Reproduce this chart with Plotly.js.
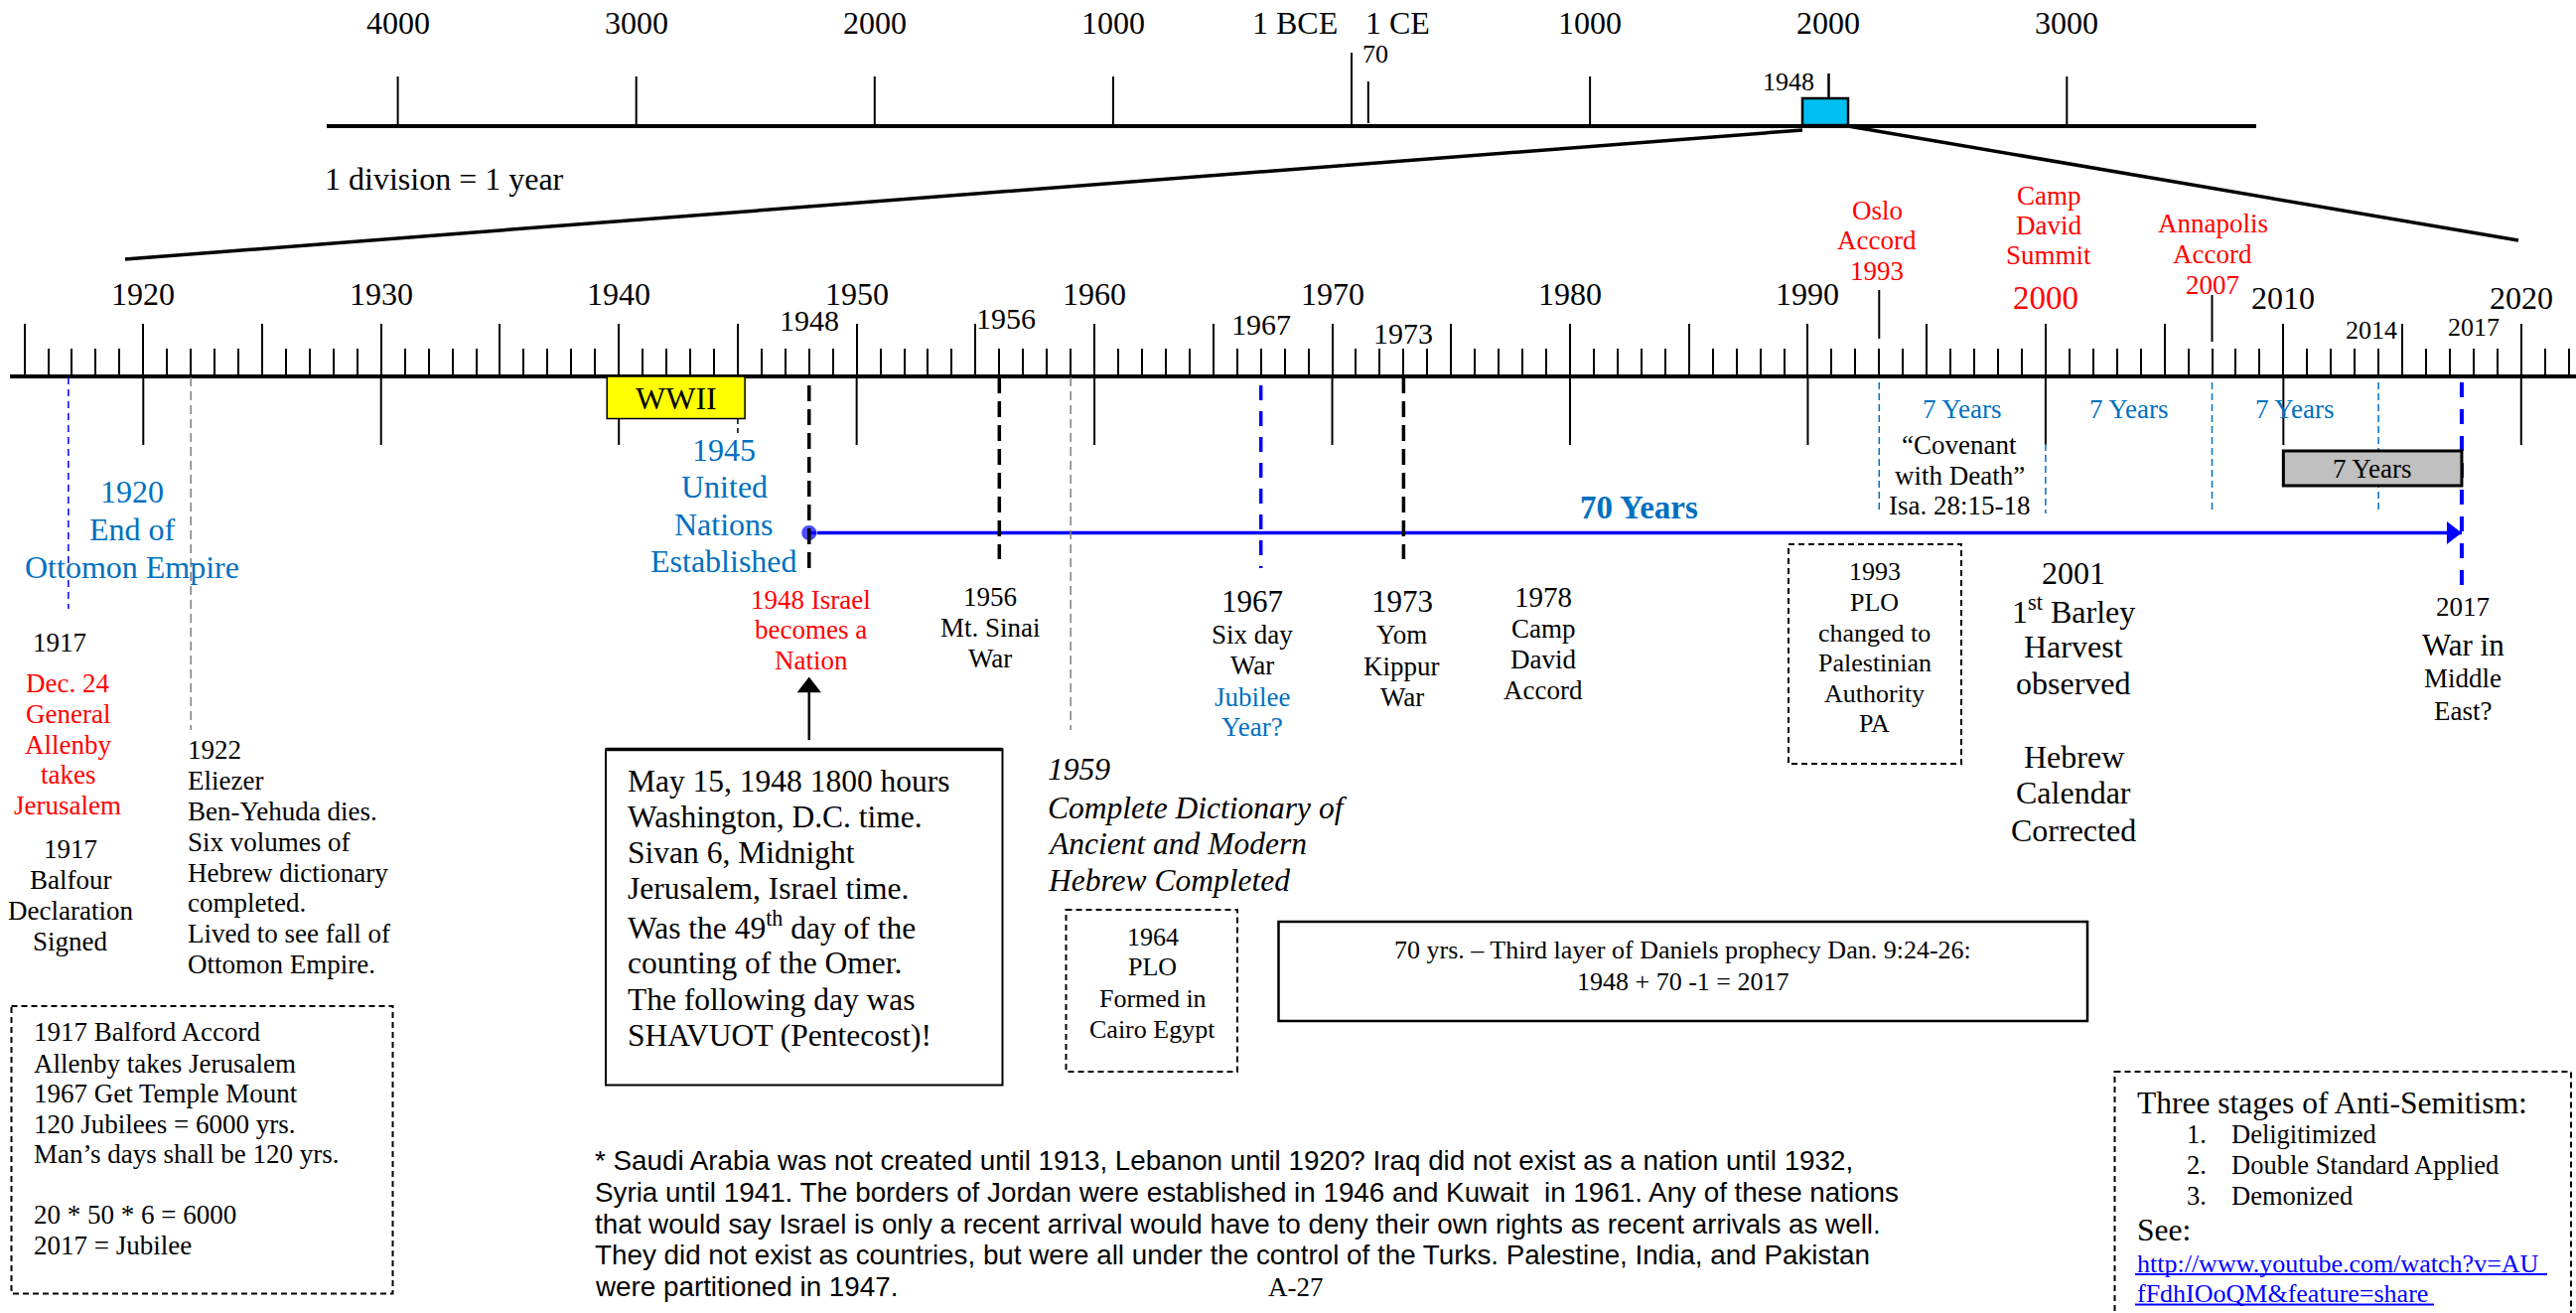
<!DOCTYPE html>
<html><head><meta charset="utf-8">
<script src="https://cdn.plot.ly/plotly-3.0.1.min.js"></script>
<style>html,body{margin:0;padding:0;background:#fff;overflow:hidden}#chart{width:2594px;height:1322px}</style>
</head><body><div id="chart"></div>
<script>
// ================= DATA =================
// long (era) timeline
const eraTickYears  = [-4000, -3000, -2000, -1000, 1000, 3000];
const eraLabelYears = [-4000, -3000, -2000, -1000, 1000, 2000, 3000];
const eraLabels     = ['4000', '3000', '2000', '1000', '1000', '2000', '3000'];
const templeYear = 70;

// zoomed timeline (1 division = 1 year)
const decadeYears  = [1920, 1930, 1940, 1950, 1960, 1970, 1980, 1990, 2000, 2010, 2020];
const decadeLabels = ['1920', '1930', '1940', '1950', '1960', '1970', '1980', '1990', '2000', '2010', '2020'];
const eventLabelYears = [1948, 1956, 1967, 1973, 2014, 2017];
const eventLabels     = ['1948', '1956', '1967', '1973', '2014', '2017'];
const warYears   = [1948, 1956, 1973];          // black dashed markers
const blueYears  = [1967, 2017.5];              // blue dashed markers (2017 as drawn)
const grayYears  = [1922, 1959];                // grey dashed markers
const ottomanYear = 1917;
const unYear = 1945;
const accordYears = [1993, 2007];               // tall ticks above axis
const sevenYearMarks = [1993, 2000, 2007, 2014];
const sevenYearMids  = [1996.5, 2003.5, 2010.5];
const wwiiSpan = [1939.5, 1945.3];
const lastSevenSpan = [2010, 2017.5];
const seventySpan = [1948, 2017.5];
const nationYear = 1948;

// ================= LAYOUT HELPERS =================
const W = 2594, H = 1322;
const P = x => x / W, Q = y => 1 - y / H;
const SERIF = '"Liberation Serif","Times New Roman",serif';
const SANS = '"Liberation Sans",Arial,sans-serif';
const RED = '#FF0000', BLUE = '#0070C0', PURE = '#0000FF';
// main axis scale: 1920 at 144.3px, 23.945 px / year
const PXY = 23.945, Y0 = 1913.974;
// era axis: year 0 at 1361px, 0.2401 px / year
const E0 = 1361, EPX = 0.2401;

const ann = [];
const shp = [];
function txt(x, y, t, o = {}) {
  ann.push({xref: o.xref || 'paper', yref: 'paper', x: o.xref ? x : P(x), y: Q(y), text: t, showarrow: false,
    xanchor: o.anchor || 'center', yanchor: 'middle', xshift: o.xshift || 0,
    font: {family: o.family || SERIF, size: o.size || 27, color: o.color || '#000'}});
}
function block(x, ys, lines, o = {}) {
  lines.forEach((l, i) => {
    if (l === null) return;
    const lo = Object.assign({}, o);
    let t = l;
    if (typeof l === 'object') { Object.assign(lo, l); t = l.t; }
    txt(x, ys[i], t, lo);
  });
}
function line(xref, x0, y0, x1, y1, color, width, dash) {
  shp.push({type: 'line', xref: xref, yref: 'paper', x0: x0, x1: x1, y0: Q(y0), y1: Q(y1),
    line: {color: color, width: width, dash: dash || 'solid'}});
}
function rect(x0, y0, x1, y1, o = {}) {
  shp.push({type: 'rect', xref: o.xref || 'paper', yref: 'paper',
    x0: o.xref ? x0 : P(x0), x1: o.xref ? x1 : P(x1), y0: Q(y0), y1: Q(y1),
    fillcolor: o.fill || 'rgba(0,0,0,0)', line: {color: o.color || '#000', width: o.width || 2, dash: o.dash || 'solid'}});
}

// ================= ERA TIMELINE =================
eraLabelYears.forEach((yv, i) => txt(yv, 23, eraLabels[i], {xref: 'x3', size: 32}));
txt(0, 23, '1 BCE', {xref: 'x3', size: 32, anchor: 'right', xshift: -12});
txt(0, 23, '1 CE', {xref: 'x3', size: 32, anchor: 'left', xshift: 12});
txt(templeYear, 55, '70', {xref: 'x3', size: 26, xshift: 7});
eraTickYears.forEach(yv => line('x3', yv, 77, yv, 126, '#000', 2));
line('x3', 0, 53, 0, 126, '#000', 2);
line('x3', templeYear, 82, templeYear, 124, '#000', 2);
rect(1815, 99, 1861, 126, {fill: '#00BFF3', width: 2.5});
line('paper', P(1841.5), 74, P(1841.5), 99, '#000', 2.5);
txt(1829, 82, String(1948), {anchor: 'right', size: 26});
txt(325, 180, '1 division = 1 year', {anchor: 'left', size: 32});
// zoom connector lines
line('paper', P(1815), 131, P(126), 261, '#000', 3.5);
line('paper', P(1861), 127, P(2536), 242, '#000', 3.5);

// ================= MAIN TIMELINE =================
decadeYears.forEach((yv, i) => {
  const big = yv >= 2000;
  txt(yv, big ? 300 : 296, decadeLabels[i], {xref: 'x', size: yv === 2000 ? 33 : 32, color: yv === 2000 ? RED : '#000'});
  line('x', yv, 379, yv, 448, '#000', 2);
});
const evY = {1948: 323, 1956: 320, 1967: 327, 1973: 335, 2014: 332, 2017: 329};
const evSz = {1948: 30, 1956: 30, 1967: 30, 1973: 30, 2014: 26, 2017: 26};
const evShift = {1948: 0, 1956: 7, 1967: 0, 1973: 0, 2014: -7, 2017: 24};
eventLabelYears.forEach((yv, i) => txt(yv, evY[yv], eventLabels[i], {xref: 'x', size: evSz[yv], xshift: evShift[yv]}));
line('x', accordYears[0], 292, accordYears[0], 341, '#000', 2);
line('x', accordYears[1], 297, accordYears[1], 344, '#000', 2);

// red accords above
block(1890, [212, 242, 273], ['Oslo', 'Accord', '1993'], {color: RED, size: 27});
block(2063, [197, 226.5, 257], ['Camp', 'David', 'Summit'], {color: RED, size: 27});
block(2228, [225, 256, 287], ['Annapolis', 'Accord', '2007'], {color: RED, size: 27});

// dashed event lines
line('x', ottomanYear - 0.15, 380, ottomanYear - 0.15, 613, PURE, 1.5, '7px,5px');
grayYears.forEach(yv => line('x', yv, 380, yv, 735, '#808080', 1.5, '9px,5px'));
line('x', unYear, 422, unYear, 440, '#000', 1.5, '5px,4px');
warYears.forEach(yv => line('x', yv, yv === 1948 ? 388 : 380, yv, yv === 1948 ? 572 : 563, '#000', 3.5, '16px,8px'));
line('x', blueYears[0], 388, blueYears[0], 572, PURE, 3.5, '15px,11px');
line('x', blueYears[1], 385, blueYears[1], 596, PURE, 4, '15px,12px');
sevenYearMarks.forEach(yv => line('x', yv, yv === 2000 ? 447 : 385, yv, 517, BLUE, 1.5, '7px,4px'));

// WWII box
rect(wwiiSpan[0], 379, wwiiSpan[1], 421.5, {xref: 'x', fill: '#FFFF00', width: 1.5});
txt((wwiiSpan[0] + wwiiSpan[1]) / 2, 401, 'WWII', {xref: 'x', size: 32});
// last 7 years box
rect(lastSevenSpan[0], 454, lastSevenSpan[1], 489, {xref: 'x', fill: '#C0C0C0', width: 3});
txt((lastSevenSpan[0] + lastSevenSpan[1]) / 2, 472, '7 Years', {xref: 'x', size: 27});
// 7 years labels
sevenYearMids.forEach(yv => txt(yv, 412, '7 Years', {xref: 'x', size: 27, color: BLUE}));
block(1973, [448, 478.5, 509], ['\u201CCovenant', 'with Death\u201D', 'Isa. 28:15-18'], {size: 27});
// 70 years label
txt(1650, 511, '<b>70 Years</b>', {size: 33, color: BLUE});

// ================= TEXT BELOW AXIS =================
block(133, [495, 533, 571], ['1920', 'End of', 'Ottomon Empire'], {size: 32, color: BLUE});
block(729.5, [453, 490, 528, 565], ['1945', 'United', 'Nations', 'Established'], {size: 32, color: BLUE});
txt(60, 647, '1917', {size: 27});
block(68, [687.5, 718.5, 749.5, 780, 811], ['Dec. 24', 'General', 'Allenby', 'takes', 'Jerusalem'], {size: 27, color: RED});
block(70.5, [855, 886, 917, 948], ['1917', 'Balfour', 'Declaration', 'Signed'], {size: 27});
block(186.5, [755, 786, 817, 847.5, 878.5, 909.5, 940, 971],
  ['1922', 'Eliezer', 'Ben-Yehuda dies.', 'Six volumes of', 'Hebrew dictionary', 'completed.', 'Lived to see fall of', 'Ottomon Empire.'],
  {size: 27, anchor: 'left'});
block(816.5, [603.5, 634, 665], ['1948 Israel', 'becomes a', 'Nation'], {size: 27, color: RED});
block(997, [601, 632, 663], ['1956', 'Mt. Sinai', 'War'], {size: 27});
block(1261, [605.5, 638.5, 670, 701.5, 731.5],
  [{t: '1967', size: 31}, 'Six day', 'War', {t: 'Jubilee', color: BLUE}, {t: 'Year?', color: BLUE}], {size: 27});
block(1411.5, [605.5, 639, 671, 702], [{t: '1973', size: 31}, 'Yom', 'Kippur', 'War'], {size: 27});
block(1554, [600.5, 633, 664, 694.5], [{t: '1978', size: 29}, 'Camp', 'David', 'Accord'], {size: 27});
rect(1801, 548, 1975, 769, {dash: '6px,4px', width: 2});
block(1887.5, [575.5, 606, 637, 667.5, 698.5, 729], ['1993', 'PLO', 'changed to', 'Palestinian', 'Authority', 'PA'], {size: 26});
block(2088, [577, 613.5, 651, 687.5, null, 762, 798, 836],
  ['2001', '1<sup>st</sup> Barley', 'Harvest', 'observed', null, 'Hebrew', 'Calendar', 'Corrected'], {size: 32});
block(2480, [611, 650, 683, 715.5], ['2017', {t: 'War in', size: 31}, 'Middle', 'East?'], {size: 27});

// May 15 box
rect(610, 754.5, 1009.5, 1092.5, {width: 2});
line('paper', P(610), 754.5, P(1009.5), 754.5, '#000', 3.5);
block(630, [786, 822, 858.5, 895, 932, 970, 1006.5, 1042],
  ['May 15, 1948 1800 hours', 'Washington, D.C. time.', 'Sivan 6, Midnight', 'Jerusalem, Israel time.',
   'Was the 49<sup>th</sup> day of the', 'counting of the Omer.', 'The following day was', 'SHAVUOT (Pentecost)!'],
  {size: 31.5, anchor: 'left'});
// 1959 dictionary
block(1053, [775, 813, 850, 886],
  ['<i>1959</i>', '<i>Complete Dictionary of</i>', '<i>Ancient and Modern</i>', '<i>Hebrew Completed</i>'],
  {size: 31.5, anchor: 'left'});
// 1964 PLO box
rect(1073.5, 916, 1246, 1079, {dash: '6px,4px', width: 2});
block(1160.5, [943, 973.5, 1005, 1036], ['1964', 'PLO', 'Formed in', 'Cairo Egypt'], {size: 26});
// Daniel box
rect(1287.5, 928, 2102, 1028, {width: 2.5});
block(1694.5, [956, 988], ['70 yrs. \u2013 Third layer of Daniels prophecy Dan. 9:24-26:', '1948 + 70 -1 = 2017'], {size: 26});

// left dashed box
rect(11.5, 1013, 395.5, 1302.5, {dash: '6px,4px', width: 2});
block(31.5, [1038.5, 1070.5, 1100.5, 1131.5, 1162, 1223, 1254],
  ['1917 Balford Accord', 'Allenby takes Jerusalem', '1967 Get Temple Mount', '120 Jubilees = 6000 yrs.',
   'Man\u2019s days shall be 120 yrs.', '20 * 50 * 6 = 6000', '2017 = Jubilee'],
  {size: 27, anchor: 'left'});

// footnote
block(597, [1168.5, 1200, 1232, 1263.5, 1295],
  ['* Saudi Arabia was not created until 1913, Lebanon until 1920? Iraq did not exist as a nation until 1932,',
   'Syria until 1941. The borders of Jordan were established in 1946 and Kuwait&#160; in 1961. Any of these nations',
   'that would say Israel is only a recent arrival would have to deny their own rights as recent arrivals as well.',
   'They did not exist as countries, but were all under the control of the Turks. Palestine, India, and Pakistan',
   'were partitioned in 1947.'],
  {size: 27.8, anchor: 'left', family: SANS});
txt(1305, 1296, 'A-27', {size: 27});

// right dashed box
rect(2129.5, 1079, 2589, 1345, {dash: '6px,4px', width: 2});
txt(2150, 1110, 'Three stages of Anti-Semitism:', {size: 31.5, anchor: 'left'});
block(2199.5, [1142, 1173, 1203.5], ['1.', '2.', '3.'], {size: 26.5, anchor: 'left'});
block(2245, [1142, 1173, 1203.5], ['Deligitimized', 'Double Standard Applied', 'Demonized'], {size: 26.5, anchor: 'left'});
txt(2150, 1238.5, 'See:', {size: 31.5, anchor: 'left'});
block(2150, [1272, 1302], ['http://www.youtube.com/watch?v=AU', 'fFdhIOoQM&amp;feature=share'], {size: 26, anchor: 'left', color: PURE});
line('paper', P(2150), 1283, P(2565), 1283, PURE, 2);
line('paper', P(2150), 1313.5, P(2451), 1313.5, PURE, 2);

// ================= TRACES =================
const traces = [
  // 70 years arrow: shaft with start dot
  {x: seventySpan, y: [536.5, 536.5], xaxis: 'x', yaxis: 'y', mode: 'lines+markers',
   line: {color: PURE, width: 3.5}, marker: {color: PURE, size: [16, 0]}, hoverinfo: 'skip', showlegend: false},
  // 70 years arrow head (tip on 2017 line)
  {x: [seventySpan[1] - 10 / PXY], y: [536.5], xaxis: 'x', yaxis: 'y', mode: 'markers',
   marker: {symbol: 'triangle-right', size: 20, color: PURE, line: {width: 0}}, hoverinfo: 'skip', showlegend: false},
  // arrow pointing up to "1948 Israel becomes a Nation"
  {x: [nationYear, nationYear], y: [745, 690], xaxis: 'x', yaxis: 'y', mode: 'lines',
   line: {color: '#000', width: 2.5}, hoverinfo: 'skip', showlegend: false},
  {x: [nationYear], y: [692], xaxis: 'x', yaxis: 'y', mode: 'markers',
   marker: {symbol: 'triangle-up', size: 21, color: '#000', line: {width: 0}}, hoverinfo: 'skip', showlegend: false},
  // anchor for the era axis
  {x: [0], y: [-100], xaxis: 'x3', yaxis: 'y', mode: 'markers', marker: {opacity: 0}, hoverinfo: 'skip', showlegend: false}
];

const layout = {
  width: W, height: H, margin: {l: 0, r: 0, t: 0, b: 0, pad: 0},
  paper_bgcolor: '#fff', plot_bgcolor: 'rgba(0,0,0,0)', showlegend: false,
  yaxis: {domain: [0, 1], range: [H, 0], autorange: false, visible: false, fixedrange: true},
  xaxis: {domain: [10 / W, 1], range: [Y0 + 10 / PXY, Y0 + W / PXY], autorange: false,
    anchor: 'free', position: Q(378.5), showline: true, linewidth: 4, linecolor: '#000',
    showgrid: false, zeroline: false, showticklabels: false,
    tickmode: 'linear', tick0: 1915, dtick: 5, ticks: 'inside', ticklen: 51, tickwidth: 2, tickcolor: '#000',
    minor: {ticks: 'inside', ticklen: 26, tickwidth: 2, tickcolor: '#000', dtick: 1, tick0: 1915, showgrid: false},
    fixedrange: true},
  xaxis3: {domain: [329 / W, 2272 / W], range: [(329 - E0) / EPX, (2272 - E0) / EPX], autorange: false,
    anchor: 'free', position: Q(126), showline: true, linewidth: 3.5, linecolor: '#000',
    showgrid: false, zeroline: false, showticklabels: false, ticks: '', fixedrange: true},
  annotations: ann,
  shapes: shp
};
Plotly.newPlot('chart', traces, layout, {staticPlot: true, displayModeBar: false});
</script></body></html>
